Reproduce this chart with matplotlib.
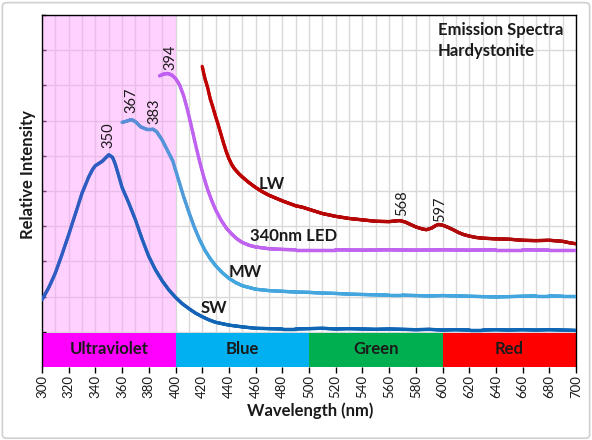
import numpy as np
import matplotlib
matplotlib.use("Agg")
import matplotlib.pyplot as plt
from matplotlib.collections import LineCollection
from matplotlib.patches import Rectangle, FancyBboxPatch
from matplotlib.colors import to_rgb

plt.rcParams['font.family'] = ['Lato', 'DejaVu Sans']

# ---------------- data ----------------
sw_x = [300, 305, 310, 315, 320, 325, 330, 335, 338, 340, 345, 350, 353, 355, 360, 365, 370, 375,
        380, 385, 390, 395, 400, 405, 410, 415, 420, 425, 430, 440, 450, 460, 470, 480, 490, 500,
        510, 520, 530, 540, 550, 560, 570, 580, 590, 600, 610, 620, 630, 640, 650, 660, 670, 680,
        690, 700]
sw_y = [0.91, 1.25, 1.67, 2.20, 2.76, 3.35, 3.94, 4.40, 4.62, 4.72, 4.84, 5.03, 4.95, 4.75, 4.10,
        3.66, 3.18, 2.63, 2.14, 1.76, 1.45, 1.19, 0.98, 0.80, 0.66, 0.53, 0.43, 0.34, 0.27, 0.19,
        0.14, 0.10, 0.09, 0.08, 0.08, 0.09, 0.10, 0.08, 0.09, 0.08, 0.07, 0.08, 0.07, 0.06, 0.07,
        0.05, 0.06, 0.05, 0.05, 0.06, 0.05, 0.06, 0.05, 0.06, 0.05, 0.04]

mw_x = [360, 363, 367, 370, 374, 378, 383, 386, 390, 394, 398, 402, 406, 410, 414, 418, 422, 426,
        430, 435, 440, 445, 450, 460, 470, 480, 490, 500, 510, 520, 530, 540, 550, 560, 570, 580,
        590, 600, 610, 620, 630, 640, 650, 660, 670, 680, 690, 700]
mw_y = [5.95, 5.98, 6.03, 5.97, 5.82, 5.76, 5.76, 5.68, 5.45, 5.15, 4.85, 4.35, 3.85, 3.40, 2.98,
        2.62, 2.32, 2.08, 1.88, 1.68, 1.52, 1.40, 1.31, 1.21, 1.17, 1.15, 1.13, 1.12, 1.10, 1.09,
        1.07, 1.06, 1.05, 1.04, 1.04, 1.03, 1.02, 1.03, 1.02, 1.01, 1.00, 0.99, 1.00, 1.01, 1.02,
        1.02, 1.01, 1.01]

led_x = [388, 391, 394, 397, 400, 403, 406, 409, 412, 415, 418, 421, 424, 427, 430, 434, 438, 442,
         446, 450, 455, 460, 470, 480, 490, 500, 520, 540, 560, 580, 600, 620, 640, 660, 680, 700]
led_y = [7.27, 7.32, 7.34, 7.30, 7.20, 7.02, 6.72, 6.30, 5.82, 5.32, 4.85, 4.42, 4.05, 3.74, 3.47,
         3.18, 2.95, 2.78, 2.64, 2.54, 2.46, 2.41, 2.36, 2.34, 2.33, 2.33, 2.33, 2.32, 2.33, 2.32,
         2.33, 2.32, 2.33, 2.33, 2.32, 2.32]

lw_x = [420, 422, 424, 426, 428, 430, 432, 434, 436, 438, 440, 442, 444, 447, 450, 455, 460, 465,
        470, 475, 480, 485, 490, 495, 500, 505, 510, 520, 530, 540, 550, 560, 565, 568, 572, 576,
        580, 585, 588, 592, 595, 597, 600, 604, 608, 612, 616, 620, 625, 630, 640, 650, 660, 670,
        680, 690, 695, 700]
lw_y = [7.54, 7.20, 6.95, 6.62, 6.38, 6.12, 5.88, 5.62, 5.36, 5.12, 4.92, 4.76, 4.64, 4.51, 4.40,
        4.24, 4.10, 3.98, 3.88, 3.80, 3.72, 3.65, 3.58, 3.54, 3.48, 3.42, 3.36, 3.28, 3.22, 3.18,
        3.14, 3.13, 3.15, 3.16, 3.12, 3.05, 2.98, 2.92, 2.90, 2.95, 3.02, 3.05, 3.03, 2.97, 2.90,
        2.82, 2.76, 2.72, 2.68, 2.66, 2.64, 2.63, 2.60, 2.59, 2.60, 2.57, 2.53, 2.50]

peak_labels = ["350", "367", "383", "394", "568", "597"]
peak_x = [350, 367, 384, 396, 570, 598]
peak_y = [5.22, 6.22, 5.90, 7.45, 3.28, 3.13]

band_names = ["Ultraviolet", "Blue", "Green", "Red"]
band_edges = [300, 400, 500, 600, 700]
band_colors = ["#FF00FF", "#00B0F0", "#00B050", "#FF0000"]

series_names = ["LW", "340nm LED", "MW", "SW"]
series_label_x = [462, 456, 440, 429]
series_label_y = [4.2, 2.72, 1.71, 0.68]

x_ticks = list(range(300, 701, 20))

# ---------------- figure ----------------
fig = plt.figure(figsize=(5.92, 4.40), dpi=100)
fig.patch.set_facecolor("white")
fig.patches.append(FancyBboxPatch((0.004, 0.004), 0.992, 0.99, boxstyle="round,pad=0,rounding_size=0.008",
                                  transform=fig.transFigure, facecolor="none",
                                  edgecolor="#D0D0D0", linewidth=1.2))

ax = fig.add_axes([42 / 592, 1 - 367 / 440, (576 - 42) / 592, (367 - 15) / 440])
ax.set_xlim(300, 700)
ax.set_ylim(-1, 9)
ax.set_axisbelow(True)

ax.set_xticks(x_ticks)
ax.set_xticks(range(300, 701, 10), minor=True)
ax.set_yticks(range(0, 10))
ax.set_yticklabels([])
ax.grid(True, which="both", axis="x", color="#D9D9D9", linewidth=1.0)
ax.grid(True, which="major", axis="y", color="#D9D9D9", linewidth=1.0)
ax.tick_params(axis="x", which="major", direction="out", length=4, width=1, labelsize=9.5,
               labelrotation=90, pad=2, labelcolor="#1a1a1a")
ax.tick_params(axis="x", which="minor", length=0)
ax.tick_params(axis="y", direction="in", length=3, width=1)
for s in ax.spines.values():
    s.set_color("black")
    s.set_linewidth(1.0)
ax.spines["bottom"].set_visible(False)

# UV shading
ax.add_patch(Rectangle((300, 0), 100, 9, facecolor="#FF99FF", alpha=0.45, edgecolor="none", zorder=1))

# colour bands
for name, x0, x1, c in zip(band_names, band_edges[:-1], band_edges[1:], band_colors):
    ax.add_patch(Rectangle((x0, -1), x1 - x0, 0.97, facecolor=c, edgecolor="none", zorder=2))
    ax.text((x0 + x1) / 2, -0.5, name, ha="center", va="center", fontsize=12,
            fontweight="bold", color="#1a1a1a", zorder=3)


def grad_line(xs, ys, c0, c1, x0, x1, lw=2.4):
    xs = np.asarray(xs, float)
    ys = np.asarray(ys, float)
    xf = np.linspace(xs[0], xs[-1], 600)
    yf = np.interp(xf, xs, ys)
    pts = np.column_stack([xf, yf]).reshape(-1, 1, 2)
    segs = np.concatenate([pts[:-1], pts[1:]], axis=1)
    mid = (xf[:-1] + xf[1:]) / 2
    t = np.clip((mid - x0) / (x1 - x0), 0, 1)[:, None]
    cols = (1 - t) * np.array(to_rgb(c0)) + t * np.array(to_rgb(c1))
    lc = LineCollection(segs, colors=cols, linewidths=lw, capstyle="round", joinstyle="round", zorder=4)
    ax.add_collection(lc)


grad_line(sw_x, sw_y, "#2F5CC2", "#0E66B4", 340, 440)
grad_line(mw_x, mw_y, "#5A8ED8", "#44A6DE", 380, 430)
grad_line(led_x, led_y, "#C060F2", "#C064F0", 390, 450)
grad_line(lw_x, lw_y, "#C00000", "#B00A0A", 420, 600)

for lab, px, py in zip(peak_labels, peak_x, peak_y):
    ax.text(px, py, lab, rotation=90, ha="center", va="bottom", fontsize=10.5, color="#1a1a1a", zorder=5)

for lab, sx, sy in zip(series_names, series_label_x, series_label_y):
    ax.text(sx, sy, lab, ha="left" if lab != "SW" else "center", va="center", fontsize=12,
            fontweight="bold", color="#1a1a1a", zorder=5)

fig.text(438 / 592, 1 - 22 / 440, "Emission Spectra\nHardystonite", ha="left", va="top",
         fontsize=12, fontweight="bold", color="#1a1a1a", linespacing=1.35)

fig.text(310 / 592, 1 - 411 / 440, "Wavelength (nm)", ha="center", va="center", fontsize=12,
         fontweight="bold", color="#1a1a1a")
fig.text(28 / 592, 1 - 175 / 440, "Relative Intensity", ha="center", va="center", rotation=90,
         fontsize=12, fontweight="bold", color="#1a1a1a")

fig.savefig("out.png", dpi=100)
